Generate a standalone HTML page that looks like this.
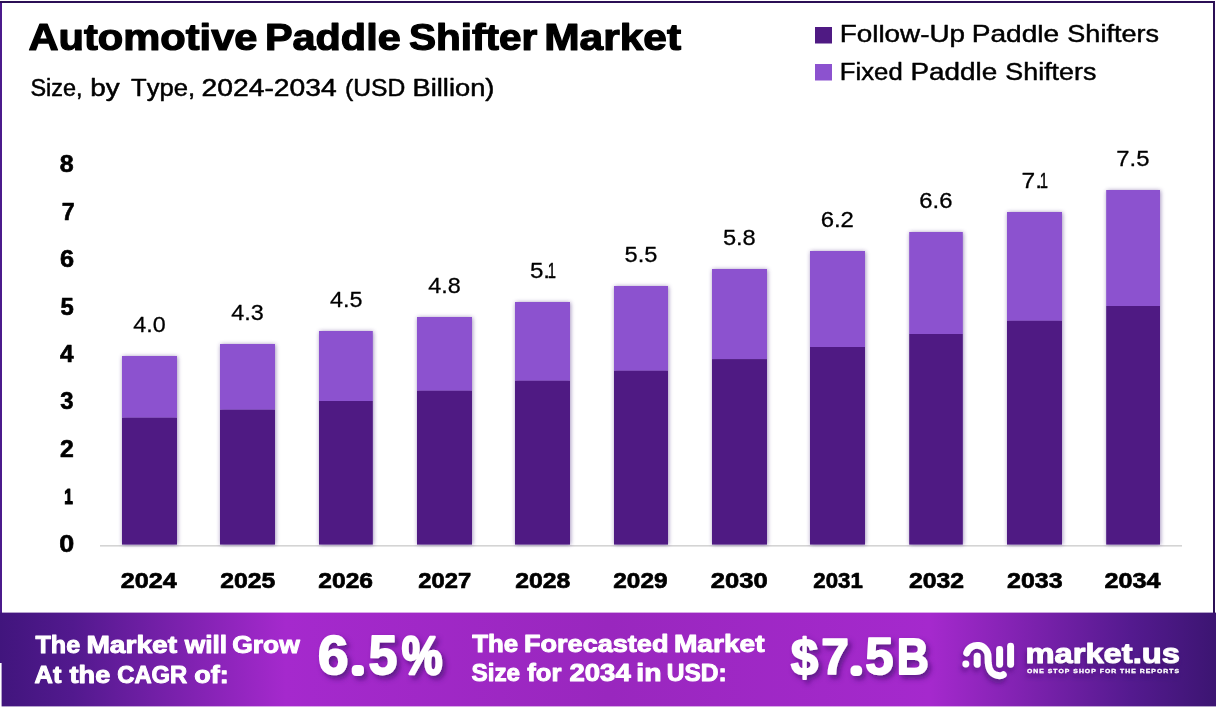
<!DOCTYPE html>
<html lang="en"><head><meta charset="utf-8"><title>Automotive Paddle Shifter Market</title>
<style>
html,body{margin:0;padding:0;background:#fff;}
body{width:1216px;height:709px;overflow:hidden;font-family:"Liberation Sans",sans-serif;}
svg{display:block;position:absolute;left:0;top:0;}
text{font-family:"Liberation Sans",sans-serif;font-kerning:none;stroke-linejoin:round;}
.k{fill:#000;stroke:#000;}
.kb{fill:#000;stroke:#000;font-weight:700;}
.w{fill:#fff;stroke:#fff;font-weight:700;}
</style></head><body>
<svg width="1216" height="709" viewBox="0 0 1216 709">
<defs>
<linearGradient id="bg" x1="0" y1="0" x2="1" y2="0">
<stop offset="0" stop-color="#41157d"/>
<stop offset="0.06" stop-color="#52198e"/>
<stop offset="0.235" stop-color="#a529cd"/>
<stop offset="0.5" stop-color="#9927be"/>
<stop offset="0.765" stop-color="#a529cd"/>
<stop offset="0.93" stop-color="#541a8f"/>
<stop offset="1" stop-color="#3c1572"/>
</linearGradient>
<filter id="bs" x="-20%" y="-5%" width="140%" height="110%"><feGaussianBlur stdDeviation="2"/></filter>
<filter id="ts" x="-10%" y="-20%" width="125%" height="150%"><feDropShadow dx="3" dy="3.5" stdDeviation="2.4" flood-color="#3a0f66" flood-opacity=".65"/></filter>
<filter id="ls" x="-20%" y="-20%" width="140%" height="160%"><feDropShadow dx="-1" dy="4" stdDeviation="2.5" flood-color="#3a0f66" flood-opacity=".55"/></filter>
</defs>
<rect width="1216" height="709" fill="#fff"/>
<rect x="0" y="1" width="2" height="662" fill="#4b1a8c"/>
<rect x="0" y="1" width="1215" height="2" fill="#2b0f55"/>
<rect x="1213" y="1" width="2" height="612" fill="#2b0f55"/>
<text class="kb" transform="translate(28.44 49.60) scale(1.1283 1)" font-size="36.92" stroke-width="1.2">Automotive</text>
<text class="kb" transform="translate(264.90 49.60) scale(1.1222 1)" font-size="36.92" stroke-width="1.2">Paddle</text>
<text class="kb" transform="translate(408.99 49.60) scale(1.0987 1)" font-size="36.92" stroke-width="1.2">Shifter</text>
<text class="kb" transform="translate(544.15 49.60) scale(1.1510 1)" font-size="36.92" stroke-width="1.2">Market</text>
<text class="k" transform="translate(30.49 96.25) scale(1.0133 1)" font-size="23.11" stroke-width="0.5">Size,</text>
<text class="k" transform="translate(90.30 96.25) scale(1.2065 1)" font-size="23.11" stroke-width="0.5">by</text>
<text class="k" transform="translate(131.00 96.25) scale(1.1076 1)" font-size="23.11" stroke-width="0.5">Type,</text>
<text class="k" transform="translate(201.58 96.25) scale(1.2227 1)" font-size="23.11" stroke-width="0.5">2024-2034</text>
<text class="k" transform="translate(345.04 96.25) scale(1.0688 1)" font-size="23.11" stroke-width="0.5">(USD</text>
<text class="k" transform="translate(412.56 96.25) scale(1.1800 1)" font-size="23.11" stroke-width="0.5">Billion)</text>
<rect x="815" y="27" width="17" height="16.5" fill="#4f1a83"/>
<rect x="815" y="64" width="17" height="16.5" fill="#8c52cf"/>
<text class="k" transform="translate(839.68 42.48) scale(1.2104 1)" font-size="23.04" stroke-width="0.45">Follow-Up</text>
<text class="k" transform="translate(971.67 42.48) scale(1.2198 1)" font-size="23.04" stroke-width="0.45">Paddle</text>
<text class="k" transform="translate(1067.34 42.48) scale(1.1738 1)" font-size="23.04" stroke-width="0.45">Shifters</text>
<text class="k" transform="translate(839.84 79.58) scale(1.1089 1)" font-size="23.18" stroke-width="0.45">Fixed</text>
<text class="k" transform="translate(910.48 79.58) scale(1.2022 1)" font-size="23.18" stroke-width="0.45">Paddle</text>
<text class="k" transform="translate(1005.34 79.58) scale(1.1587 1)" font-size="23.18" stroke-width="0.45">Shifters</text>
<text class="kb" transform="translate(59.28 551.60) scale(1.1647 1)" font-size="23.11" stroke-width="0.6">0</text>
<text class="kb" transform="translate(64.35 503.91) scale(0.6927 1)" font-size="22.24" stroke-width="1.2">1</text>
<text class="kb" transform="translate(60.06 456.82) scale(1.0745 1)" font-size="23.11" stroke-width="0.6">2</text>
<text class="kb" transform="translate(60.36 409.43) scale(1.0341 1)" font-size="23.11" stroke-width="0.6">3</text>
<text class="kb" transform="translate(59.95 362.04) scale(1.0594 1)" font-size="23.11" stroke-width="0.6">4</text>
<text class="kb" transform="translate(60.38 314.65) scale(1.0331 1)" font-size="23.11" stroke-width="0.6">5</text>
<text class="kb" transform="translate(59.90 267.26) scale(1.0958 1)" font-size="23.11" stroke-width="0.6">6</text>
<text class="kb" transform="translate(61.80 219.87) scale(1.0048 1)" font-size="23.11" stroke-width="0.6">7</text>
<text class="kb" transform="translate(59.78 172.48) scale(1.0825 1)" font-size="23.11" stroke-width="0.6">8</text>
<rect x="100" y="545" width="1082" height="1.6" fill="#d4d4d4"/>
<rect x="122.6" y="356.5" width="55" height="188.10" fill="#4a2a80" opacity=".55" filter="url(#bs)"/>
<rect x="220.6" y="344.5" width="55" height="200.10" fill="#4a2a80" opacity=".55" filter="url(#bs)"/>
<rect x="319.6" y="331.5" width="53.8" height="213.10" fill="#4a2a80" opacity=".55" filter="url(#bs)"/>
<rect x="417.6" y="317.5" width="55" height="227.10" fill="#4a2a80" opacity=".55" filter="url(#bs)"/>
<rect x="515.6" y="302.5" width="55" height="242.10" fill="#4a2a80" opacity=".55" filter="url(#bs)"/>
<rect x="614.6" y="286.5" width="54" height="258.10" fill="#4a2a80" opacity=".55" filter="url(#bs)"/>
<rect x="712.6" y="269.5" width="55" height="275.10" fill="#4a2a80" opacity=".55" filter="url(#bs)"/>
<rect x="810.6" y="251.5" width="55" height="293.10" fill="#4a2a80" opacity=".55" filter="url(#bs)"/>
<rect x="909.8000000000001" y="232.5" width="53.6" height="312.10" fill="#4a2a80" opacity=".55" filter="url(#bs)"/>
<rect x="1007.6" y="212.5" width="55" height="332.10" fill="#4a2a80" opacity=".55" filter="url(#bs)"/>
<rect x="1106.8" y="190.5" width="53.8" height="354.10" fill="#4a2a80" opacity=".55" filter="url(#bs)"/>
<rect x="122" y="356" width="55" height="61.75" fill="#8c52cf"/>
<rect x="122" y="417.75" width="55" height="126.85" fill="#4f1a83"/>
<text class="k" transform="translate(133.32 332.45) scale(1.0324 1)" font-size="22.53" stroke-width="0.3">4.0</text>
<text class="kb" transform="translate(120.76 588.45) scale(1.0959 1)" font-size="22.97" stroke-width="0.7">2024</text>
<rect x="220" y="344" width="55" height="65.75" fill="#8c52cf"/>
<rect x="220" y="409.75" width="55" height="134.85" fill="#4f1a83"/>
<text class="k" transform="translate(231.32 320.45) scale(1.0361 1)" font-size="22.53" stroke-width="0.3">4.3</text>
<text class="kb" transform="translate(220.27 588.45) scale(1.0774 1)" font-size="22.97" stroke-width="0.7">2025</text>
<rect x="319" y="331" width="53.8" height="70.00" fill="#8c52cf"/>
<rect x="319" y="401" width="53.8" height="143.60" fill="#4f1a83"/>
<text class="k" transform="translate(330.02 307.45) scale(1.0346 1)" font-size="22.53" stroke-width="0.3">4.5</text>
<text class="kb" transform="translate(318.27 588.45) scale(1.0715 1)" font-size="22.97" stroke-width="0.7">2026</text>
<rect x="417" y="317" width="55" height="73.75" fill="#8c52cf"/>
<rect x="417" y="390.75" width="55" height="153.85" fill="#4f1a83"/>
<text class="k" transform="translate(428.32 293.45) scale(1.0358 1)" font-size="22.53" stroke-width="0.3">4.8</text>
<text class="kb" transform="translate(418.29 588.45) scale(1.0353 1)" font-size="22.97" stroke-width="0.7">2027</text>
<rect x="515" y="302" width="55" height="78.75" fill="#8c52cf"/>
<rect x="515" y="380.75" width="55" height="163.85" fill="#4f1a83"/>
<text class="k" transform="translate(529.89 278.45) scale(1.0725 1)" font-size="22.53" stroke-width="0.3">5.</text><text class="k" transform="translate(547.66 278.33) scale(0.6629 1)" font-size="22.17" stroke-width="0.55">1</text>
<text class="kb" transform="translate(515.27 588.45) scale(1.0788 1)" font-size="22.97" stroke-width="0.7">2028</text>
<rect x="614" y="286" width="54" height="84.75" fill="#8c52cf"/>
<rect x="614" y="370.75" width="54" height="173.85" fill="#4f1a83"/>
<text class="k" transform="translate(624.61 262.45) scale(1.0480 1)" font-size="22.53" stroke-width="0.3">5.5</text>
<text class="kb" transform="translate(613.28 588.45) scale(1.0620 1)" font-size="22.97" stroke-width="0.7">2029</text>
<rect x="712" y="269" width="55" height="90.10" fill="#8c52cf"/>
<rect x="712" y="359.1" width="55" height="185.50" fill="#4f1a83"/>
<text class="k" transform="translate(722.91 245.45) scale(1.0492 1)" font-size="22.53" stroke-width="0.3">5.8</text>
<text class="kb" transform="translate(710.75 588.45) scale(1.1139 1)" font-size="22.97" stroke-width="0.7">2030</text>
<rect x="810" y="251" width="55" height="96.00" fill="#8c52cf"/>
<rect x="810" y="347" width="55" height="197.60" fill="#4f1a83"/>
<text class="k" transform="translate(820.64 227.45) scale(1.0633 1)" font-size="22.53" stroke-width="0.3">6.2</text>
<text class="kb" transform="translate(813.32 588.45) scale(0.9681 1)" font-size="22.97" stroke-width="0.7">2031</text>
<rect x="909.2" y="232" width="53.6" height="102.00" fill="#8c52cf"/>
<rect x="909.2" y="334" width="53.6" height="210.60" fill="#4f1a83"/>
<text class="k" transform="translate(919.35 208.45) scale(1.0582 1)" font-size="22.53" stroke-width="0.3">6.6</text>
<text class="kb" transform="translate(909.02 588.45) scale(1.0784 1)" font-size="22.97" stroke-width="0.7">2032</text>
<rect x="1007" y="212" width="55" height="108.80" fill="#8c52cf"/>
<rect x="1007" y="320.8" width="55" height="223.80" fill="#4f1a83"/>
<text class="k" transform="translate(1021.60 188.45) scale(1.0896 1)" font-size="22.53" stroke-width="0.3">7.</text><text class="k" transform="translate(1039.66 188.32) scale(0.6629 1)" font-size="22.17" stroke-width="0.55">1</text>
<text class="kb" transform="translate(1007.02 588.45) scale(1.0865 1)" font-size="22.97" stroke-width="0.7">2033</text>
<rect x="1106.2" y="190" width="53.8" height="116.00" fill="#8c52cf"/>
<rect x="1106.2" y="306" width="53.8" height="238.60" fill="#4f1a83"/>
<text class="k" transform="translate(1116.34 166.45) scale(1.0570 1)" font-size="22.53" stroke-width="0.3">7.5</text>
<text class="kb" transform="translate(1104.51 588.45) scale(1.0959 1)" font-size="22.97" stroke-width="0.7">2034</text>
<rect x="0" y="612.6" width="1216" height="93.8" fill="url(#bg)"/>
<rect x="0" y="663" width="1.6" height="46" fill="#fff"/>
<text class="w" transform="translate(35.43 652.50) scale(1.0299 1)" font-size="24.42" stroke-width="1.0">The</text>
<text class="w" transform="translate(86.39 652.50) scale(1.1519 1)" font-size="24.42" stroke-width="1.0">Market</text>
<text class="w" transform="translate(184.81 652.50) scale(1.0752 1)" font-size="24.42" stroke-width="1.0">will</text>
<text class="w" transform="translate(232.16 652.50) scale(1.0824 1)" font-size="24.42" stroke-width="1.0">Grow</text>
<text class="w" transform="translate(34.59 682.50) scale(1.0402 1)" font-size="24.42" stroke-width="1.0">At</text>
<text class="w" transform="translate(69.52 682.50) scale(1.1125 1)" font-size="24.42" stroke-width="1.0">the</text>
<text class="w" transform="translate(117.21 682.50) scale(0.9749 1)" font-size="24.42" stroke-width="1.0">CAGR</text>
<text class="w" transform="translate(194.20 682.50) scale(1.1047 1)" font-size="24.42" stroke-width="1.0">of:</text>
<text class="w" transform="translate(472.14 651.60) scale(1.0576 1)" font-size="24.42" stroke-width="1.0">The</text>
<text class="w" transform="translate(523.94 651.60) scale(1.1098 1)" font-size="24.42" stroke-width="1.0">Forecasted</text>
<text class="w" transform="translate(673.89 651.60) scale(1.1519 1)" font-size="24.42" stroke-width="1.0">Market</text>
<text class="w" transform="translate(471.50 681.40) scale(0.9954 1)" font-size="24.42" stroke-width="1.0">Size</text>
<text class="w" transform="translate(527.29 681.40) scale(1.0499 1)" font-size="24.42" stroke-width="1.0">for</text>
<text class="w" transform="translate(569.51 681.40) scale(1.1261 1)" font-size="24.42" stroke-width="1.0">2034</text>
<text class="w" transform="translate(636.30 681.40) scale(1.1601 1)" font-size="24.42" stroke-width="1.0">in</text>
<text class="w" transform="translate(666.73 681.40) scale(1.0040 1)" font-size="24.42" stroke-width="1.0">USD:</text>
<g filter="url(#ts)">
<text class="w" transform="translate(317.82 674.20) scale(0.5545 0.5578)" font-size="100" stroke-width="3.06">6</text><text class="w" transform="translate(354.80 671.55) scale(0.2275 0.2075)" font-size="100" stroke-width="39.08">.</text><text class="w" transform="translate(368.62 674.18) scale(0.5196 0.5539)" font-size="100" stroke-width="3.17">5</text><text class="w" transform="translate(401.77 674.19) scale(0.4581 0.5403)" font-size="100" stroke-width="4.41">%</text>
<text class="w" transform="translate(790.67 675.01) scale(0.4946 0.5273)" font-size="100" stroke-width="3.33">$</text><text class="w" transform="translate(821.30 674.34) scale(0.4970 0.5084)" font-size="100" stroke-width="3.38">7</text><text class="w" transform="translate(853.70 671.55) scale(0.1844 0.1678)" font-size="100" stroke-width="48.26">.</text><text class="w" transform="translate(865.28 674.25) scale(0.5085 0.5102)" font-size="100" stroke-width="3.34">5</text><text class="w" transform="translate(896.72 674.29) scale(0.4446 0.5071)" font-size="100" stroke-width="3.57">B</text>
</g>
<g filter="url(#ls)">
<g fill="none" stroke="#fff" stroke-width="6.9" stroke-linecap="round" stroke-linejoin="round">
<path d="M966.7 652.9 A10.95 10.95 0 0 1 988.05 656.25 L988.2 662.5 C988.7 670.6 992.6 675.7 999.5 675.7 C1001.3 675.7 1002.6 675.2 1003.3 674.7"/>
<path d="M977.2 656.2 V664.3"/>
<path d="M999.6 649.5 V664.3"/>
<path d="M1010.6 646.2 V664.3"/>
</g>
<circle cx="965.8" cy="664" r="3.45" fill="#fff"/>
<text class="w" transform="translate(1025.43 663.20) scale(1.1732 1)" font-size="27.88" stroke-width="1.0">market.us</text>
<text class="w" transform="translate(1026.89 672.85) scale(1.1475 1)" font-size="5.96" stroke-width="0.3" letter-spacing="0.15em">ONE STOP SHOP FOR THE REPORTS</text>
</g>
</svg>
</body></html>
